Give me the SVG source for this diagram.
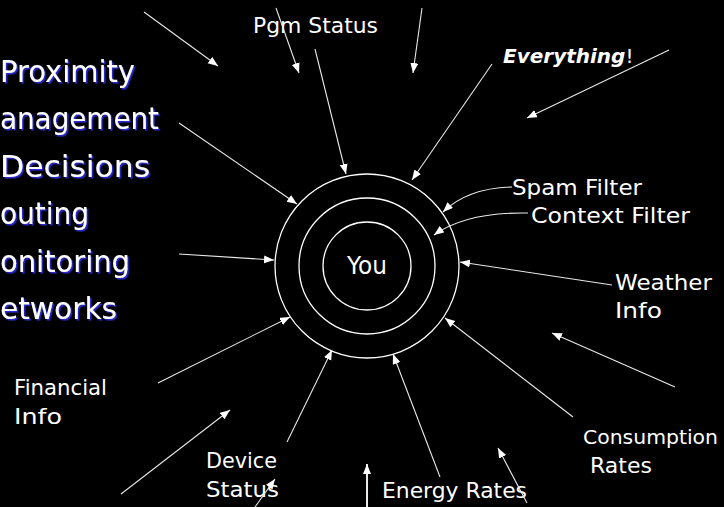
<svg xmlns="http://www.w3.org/2000/svg" width="724" height="507" viewBox="0 0 724 507">
<defs>
<marker id="ah" markerUnits="userSpaceOnUse" markerWidth="11" markerHeight="9" refX="10" refY="4" orient="auto" viewBox="0 0 11 9">
<path d="M0,0 L10,4 L0,8 z" fill="#ffffff"/>
</marker>
<filter id="sh" x="-5%" y="-20%" width="115%" height="150%">
<feDropShadow dx="1.6" dy="1.6" stdDeviation="0.3" flood-color="#2a2ad0" flood-opacity="1"/>
</filter>
<style>
.lbl{font-family:"DejaVu Sans",sans-serif;font-size:22px;fill:#ffffff}
.big{font-family:"DejaVu Sans",sans-serif;font-size:31px;fill:#ffffff;filter:url(#sh)}
.ring{fill:none;stroke:#ffffff;stroke-width:1.3}
.arr{fill:none;stroke:#e8e8e8;stroke-width:1.1;marker-end:url(#ah)}
</style>
</defs>
<rect x="0" y="0" width="724" height="507" fill="#000000"/>

<g id="left-list">
<text class="big" x="0" y="82" textLength="135" lengthAdjust="spacingAndGlyphs">Proximity</text>
<text class="big" x="0" y="129" textLength="159" lengthAdjust="spacingAndGlyphs">anagement</text>
<text class="big" x="0" y="177" textLength="150" lengthAdjust="spacingAndGlyphs">Decisions</text>
<text class="big" x="0" y="224" textLength="89" lengthAdjust="spacingAndGlyphs">outing</text>
<text class="big" x="0" y="272" textLength="130" lengthAdjust="spacingAndGlyphs">onitoring</text>
<text class="big" x="0" y="319" textLength="117" lengthAdjust="spacingAndGlyphs">etworks</text>
</g>

<g id="you">
<circle class="ring" cx="367" cy="266" r="92"/>
<circle class="ring" cx="367" cy="266" r="68"/>
<circle class="ring" cx="367" cy="266" r="44"/>
<text class="lbl" x="347" y="274" style="font-size:24px" textLength="40" lengthAdjust="spacingAndGlyphs">You</text>
</g>

<g id="pgm-status"><text class="lbl" x="253" y="33" textLength="125" lengthAdjust="spacingAndGlyphs">Pgm Status</text></g>
<g id="everything"><text class="lbl" x="503" y="63" style="font-size:20px"><tspan font-weight="bold" font-style="italic">Everything</tspan>!</text></g>
<g id="spam-filter"><text class="lbl" x="512" y="195" textLength="130" lengthAdjust="spacingAndGlyphs">Spam Filter</text></g>
<g id="context-filter"><text class="lbl" x="531" y="223" textLength="159" lengthAdjust="spacingAndGlyphs">Context Filter</text></g>
<g id="weather-info">
<text class="lbl" x="615" y="290" textLength="97" lengthAdjust="spacingAndGlyphs">Weather</text>
<text class="lbl" x="615" y="318" textLength="47" lengthAdjust="spacingAndGlyphs">Info</text>
</g>
<g id="financial-info">
<text class="lbl" x="14" y="395" textLength="93" lengthAdjust="spacingAndGlyphs">Financial</text>
<text class="lbl" x="14" y="424" textLength="48" lengthAdjust="spacingAndGlyphs">Info</text>
</g>
<g id="device-status">
<text class="lbl" x="206" y="468" textLength="71" lengthAdjust="spacingAndGlyphs">Device</text>
<text class="lbl" x="206" y="497" textLength="73" lengthAdjust="spacingAndGlyphs">Status</text>
</g>
<g id="energy-rates"><text class="lbl" x="382" y="498" textLength="145" lengthAdjust="spacingAndGlyphs">Energy Rates</text></g>
<g id="consumption-rates">
<text class="lbl" x="583" y="444" style="font-size:20px" textLength="135" lengthAdjust="spacingAndGlyphs">Consumption</text>
<text class="lbl" x="590" y="473" textLength="62" lengthAdjust="spacingAndGlyphs">Rates</text>
</g>

<g id="connectors">
<line class="arr" x1="144" y1="12" x2="218" y2="66"/>
<line class="arr" x1="276" y1="8" x2="299" y2="73"/>
<line class="arr" x1="422" y1="8" x2="413" y2="73"/>
<line class="arr" x1="315" y1="49" x2="346" y2="174"/>
<line class="arr" x1="492" y1="64" x2="412" y2="180"/>
<line class="arr" x1="669" y1="50" x2="527" y2="118"/>
<line class="arr" x1="179" y1="123" x2="297" y2="204"/>
<line class="arr" x1="179" y1="254" x2="274" y2="260"/>
<line class="arr" x1="158" y1="383" x2="290" y2="317"/>
<line class="arr" x1="121" y1="494" x2="230" y2="410"/>
<line class="arr" x1="287" y1="442" x2="332" y2="350"/>
<line class="arr" x1="440" y1="477" x2="393" y2="354"/>
<line class="arr" x1="367" y1="507" x2="367" y2="464" style="stroke-width:2"/>
<line class="arr" x1="255" y1="507" x2="275" y2="479"/>
<line class="arr" x1="527" y1="503" x2="498" y2="448"/>
<line class="arr" x1="573" y1="417" x2="445" y2="318"/>
<line class="arr" x1="675" y1="387" x2="552" y2="333"/>
<line class="arr" x1="612" y1="285" x2="460" y2="262"/>
<path class="arr" d="M512,187 Q468,188 443,212"/>
<path class="arr" d="M528,213 Q466,212 434,235"/>
</g>
</svg>
